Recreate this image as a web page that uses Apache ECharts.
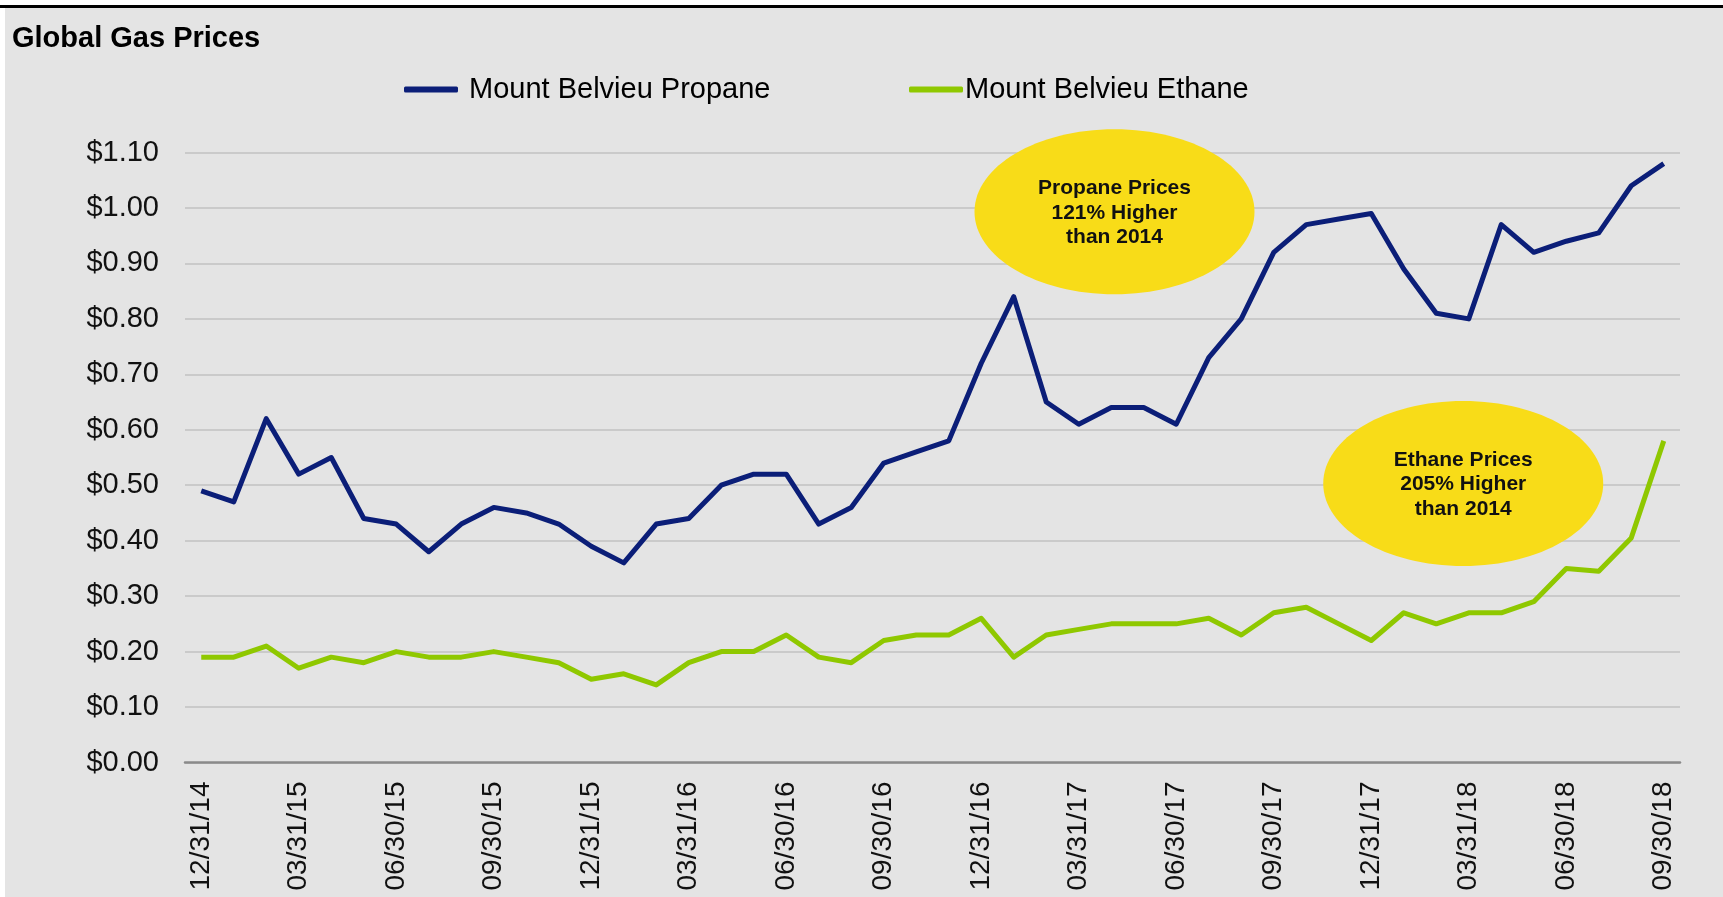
<!DOCTYPE html>
<html>
<head>
<meta charset="utf-8">
<title>Global Gas Prices</title>
<script src="https://cdn.jsdelivr.net/npm/echarts@6/dist/echarts.min.js"></script>
<style>
    body { margin: 0; background: #fff; }
    #bar { position: absolute; left: 0; top: 5px; width: 1723px; height: 3px; background: #000; }
    #bg { position: absolute; left: 5px; top: 8px; width: 1718px; height: 889px; background: #e4e4e4; }
    #main { position: absolute; left: 0; top: 0; width: 1723px; height: 897px; }
</style>
</head>
<body>
<div id="bar"></div>
<div id="bg"></div>
<div id="main"></div>
<script>
//月末日期
let dates = ['12/31/14',
    '01/31/15','02/28/15','03/31/15','04/30/15','05/31/15','06/30/15','07/31/15','08/31/15','09/30/15','10/31/15','11/30/15','12/31/15',
    '01/31/16','02/29/16','03/31/16','04/30/16','05/31/16','06/30/16','07/31/16','08/31/16','09/30/16','10/31/16','11/30/16','12/31/16',
    '01/31/17','02/28/17','03/31/17','04/30/17','05/31/17','06/30/17','07/31/17','08/31/17','09/30/17','10/31/17','11/30/17','12/31/17',
    '01/31/18','02/28/18','03/31/18','04/30/18','05/31/18','06/30/18','07/31/18','08/31/18','09/30/18'];

let propane = [0.49,0.47,0.62,0.52,0.55,0.44,0.43,0.38,0.43,0.46,0.45,0.43,0.39,
    0.36,0.43,0.44,0.50,0.52,0.52,0.43,0.46,0.54,0.56,0.58,0.72,
    0.84,0.65,0.61,0.64,0.64,0.61,0.73,0.80,0.92,0.97,0.98,0.99,
    0.89,0.81,0.80,0.97,0.92,0.94,0.955,1.04,1.08];

let ethane = [0.19,0.19,0.21,0.17,0.19,0.18,0.20,0.19,0.19,0.20,0.19,0.18,0.15,
    0.16,0.14,0.18,0.20,0.20,0.23,0.19,0.18,0.22,0.23,0.23,0.26,
    0.19,0.23,0.24,0.25,0.25,0.25,0.26,0.23,0.27,0.28,0.25,0.22,
    0.27,0.25,0.27,0.27,0.29,0.35,0.345,0.405,0.58];

let names = ['Mount Belvieu Propane', 'Mount Belvieu Ethane'];

//气泡注释: 位置用 [类目序号, 数值]
let notes = [
    {pos: [28.1, 0.993], text: 'Propane Prices\n121% Higher\nthan 2014'},
    {pos: [38.83, 0.503], text: 'Ethane Prices\n205% Higher\nthan 2014'}
];

let font = 'Liberation Sans, Arial, Helvetica, sans-serif';

let myChart = echarts.init(document.getElementById('main'));

let option = {
    backgroundColor: 'transparent',
    animation: false,
    title: {
        text: 'Global Gas Prices',
        left: 12,
        top: 24,
        padding: 0,
        textStyle: {
            fontFamily: font,
            fontWeight: 'bold',
            fontSize: 29,
            color: '#000'
        }
    },
    legend: [
        {
            data: [names[0]],
            left: 404,
            top: 75,
            padding: 0,
            icon: 'roundRect',
            itemWidth: 54,
            itemHeight: 6,
            textStyle: {fontFamily: font, fontSize: 29, color: '#000', padding: [0, 0, 0, 6]}
        },
        {
            data: [names[1]],
            left: 909,
            top: 75,
            padding: 0,
            icon: 'roundRect',
            itemWidth: 54,
            itemHeight: 6,
            textStyle: {fontFamily: font, fontSize: 29, color: '#000', padding: [0, 0, 0, -3]}
        }
    ],
    grid: {
        left: 185,
        right: 43,
        top: 152.5,
        bottom: 134.5,
        containLabel: false
    },
    xAxis: {
        type: 'category',
        data: dates,
        boundaryGap: true,
        axisLine: {lineStyle: {color: '#8a8a8a', width: 2.5}},
        axisTick: {show: false},
        axisLabel: {
            interval: 2,
            rotate: 90,
            margin: 19,
            fontFamily: font,
            fontSize: 28,
            color: '#111'
        },
        splitLine: {show: false}
    },
    yAxis: {
        type: 'value',
        min: 0,
        max: 1.1,
        interval: 0.1,
        axisLine: {show: false},
        axisTick: {show: false},
        axisLabel: {
            margin: 26,
            fontFamily: font,
            fontSize: 29,
            color: '#111',
            formatter: function (v) {
                return '$' + v.toFixed(2);
            }
        },
        splitLine: {lineStyle: {color: '#c2c2c2', width: 1.5}}
    },
    series: [
        {
            name: names[0],
            type: 'line',
            data: propane,
            symbol: 'none',
            z: 3,
            lineStyle: {color: '#0b1e78', width: 5, join: 'round'},
            itemStyle: {color: '#0b1e78'}
        },
        {
            name: names[1],
            type: 'line',
            data: ethane,
            symbol: 'none',
            z: 3,
            lineStyle: {color: '#8fc800', width: 5, join: 'round'},
            itemStyle: {color: '#8fc800'}
        }
    ]
};

myChart.setOption(option);

//把类目序号(可带小数)和数值转成像素
function toPx(idx, val) {
    let a = myChart.convertToPixel({seriesIndex: 0}, [Math.floor(idx), val]);
    let b = myChart.convertToPixel({seriesIndex: 0}, [Math.floor(idx) + 1, val]);
    let f = idx - Math.floor(idx);
    return [a[0] + (b[0] - a[0]) * f, a[1]];
}

let elements = [];
for (let n of notes) {
    let p = toPx(n.pos[0], n.pos[1]);
    elements.push({
        type: 'ellipse',
        z: 1,
        shape: {cx: p[0], cy: p[1], rx: 140, ry: 82.5},
        style: {fill: '#f8dc18'}
    });
    elements.push({
        type: 'text',
        z: 2,
        x: p[0],
        y: p[1] + 1,
        style: {
            text: n.text,
            fontFamily: font,
            fontWeight: 'bold',
            fontSize: 21,
            lineHeight: 24.7,
            fill: '#111',
            align: 'center',
            verticalAlign: 'middle'
        }
    });
}
myChart.setOption({graphic: {elements: elements}});
</script>
</body>
</html>
